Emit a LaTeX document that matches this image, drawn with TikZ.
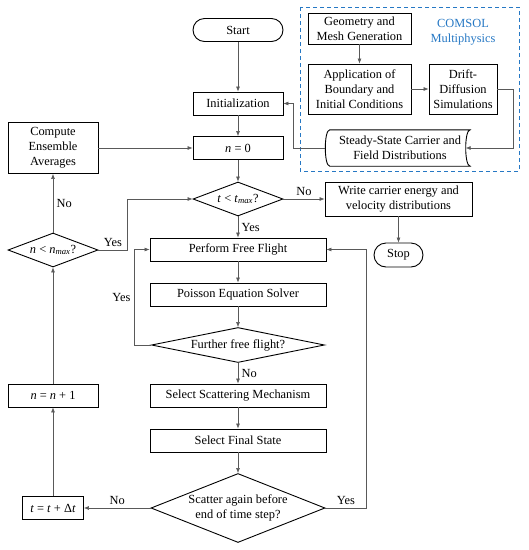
\documentclass[tikz,border=0pt]{standalone}
\usepackage{fontspec}
\setmainfont{Liberation Serif}
\usepackage{tikz}
\usetikzlibrary{positioning,shapes,calc,arrows.meta}
\definecolor{comsolblue}{RGB}{38,120,196}

\begin{document}
\begin{tikzpicture}[x=1pt,y=-1pt,
        every node/.style={font=\fontsize{12.4}{15}\selectfont, align=center},
        proc/.style={rectangle, draw=black, line width=0.9pt, minimum height=23pt, inner sep=2pt},
        term/.style={proc, rounded corners=11.5pt},
        decision/.style={diamond, draw=black, line width=0.9pt, inner sep=0pt},
        conn/.style={draw=black!65, line width=0.6pt, -{Latex[length=5pt,width=4pt]}}]
        \useasboundingbox (0,0) rectangle (529,550);

        % main column
        \node[term, minimum width=90pt] (start) at (238,30) {Start};
        \node[proc, minimum width=90pt] (init) at (238,103.5) {Initialization};
        \node[proc, minimum width=90pt] (nzero) at (238,148) {\textit{n} = 0};
        \node[decision, minimum width=90pt, minimum height=34pt, aspect=2.65] (tmax) at (238,199) {\textit{t} < \textit{t}\textsubscript{\textit{max}}?};
        \node[proc, minimum width=176pt] (flight) at (238,249.5) {Perform Free Flight};
        \node[proc, minimum width=176pt] (poisson) at (238,294.5) {Poisson Equation Solver};
        \node[decision, minimum width=173pt, minimum height=35pt, aspect=4.9] (further) at (238,345) {Further free flight?};
        \node[proc, minimum width=176pt] (mech) at (238,395.5) {Select Scattering Mechanism};
        \node[proc, minimum width=176pt] (final) at (238,440.5) {Select Final State};
        \node[decision, minimum width=174pt, minimum height=69pt, aspect=2.52] (scatter) at (238,508) {Scatter again before\\end of time step?};

        % left column
        \node[proc, minimum width=90pt, minimum height=51pt] (avg) at (53,148) {Compute\\Ensemble\\Averages};
        \node[decision, minimum width=90pt, minimum height=34pt, aspect=2.65] (nmax) at (53,250) {\textit{n} < \textit{n}\textsubscript{\textit{max}}?};
        \node[proc, minimum width=90pt] (ninc) at (53,395.5) {\textit{n} = \textit{n} + 1};
        \node[proc, minimum width=61pt] (tstep) at (53,508) {\textit{t} = \textit{t} + Δ\textit{t}};

        % output
        \node[proc, minimum width=147pt, minimum height=34pt] (write) at (398.5,199) {Write carrier energy and\\velocity distributions};
        \node[term, minimum width=49pt, minimum height=24pt, rounded corners=12pt] (stop) at (398.5,255) {Stop};

        % COMSOL part
        \draw[comsolblue, line width=1pt, dash pattern=on 4pt off 3pt] (300,7) rectangle (519,171);
        \node[text=comsolblue] (comsol) at (463,32) {COMSOL\\Multiphysics};
        \node[proc, minimum width=103pt, minimum height=31pt] (geom) at (359.5,28.5) {Geometry and\\Mesh Generation};
        \node[proc, minimum width=103pt, minimum height=50pt] (bc) at (359.5,89) {Application of\\Boundary and\\Initial Conditions};
        \node[proc, minimum width=68pt, minimum height=50pt] (dd) at (463,89) {Drift-\\Diffusion\\Simulations};
        \node[minimum width=140pt, minimum height=36pt, inner sep=0pt] (ss) at (400,148) {Steady-State Carrier and\\Field Distributions};
        \draw[line width=0.9pt] (ss.north west) .. controls +(-6,0) and +(-6,0) .. (ss.south west)
            -- (ss.south east) .. controls +(-6,0) and +(-6,0) .. (ss.north east) -- cycle;
        \coordinate (ssleft) at ($(ss.west)+(-4.5,0)$);
        \coordinate (ssright) at ($(ss.east)+(-4.5,0)$);

        % connectors
        \draw[conn] (start) -- (init);
        \draw[conn] (init) -- (nzero);
        \draw[conn] (nzero) -- (tmax);
        \draw[conn] (tmax) -- node[right]{Yes} (flight);
        \draw[conn] (tmax) -- node[above]{No} (write);
        \draw[conn] (write) -- (stop);
        \draw[conn] (flight) -- (poisson);
        \draw[conn] (poisson) -- (further);
        \draw[conn] (further) -- node[right]{No} (mech);
        \draw[conn] (mech) -- (final);
        \draw[conn] (final) -- (scatter);
        \draw[conn] (further.west) -- ++(-17,0) |- node[pos=0.25, left]{Yes} (flight.west);
        \draw[conn] (scatter.east) -- node[above]{Yes} ++(41,0) |- (flight.east);
        \draw[conn] (scatter) -- node[above]{No} (tstep);
        \draw[conn] (tstep) -- (ninc);
        \draw[conn] (ninc) -- (nmax);
        \draw[conn] (nmax) -- node[right]{No} (avg);
        \draw[conn] (avg) -- (nzero);
        \draw[conn] (nmax.east) -- node[above]{Yes} ++(29,0) |- (tmax.west);
        \draw[conn] (geom) -- (bc);
        \draw[conn] (bc) -- (dd);
        \draw[conn] (dd.east) -- ++(16,0) |- (ssright);
        \draw[conn] (ssleft) -- ++(-32,0) |- (init.east);
\end{tikzpicture}
\end{document}
